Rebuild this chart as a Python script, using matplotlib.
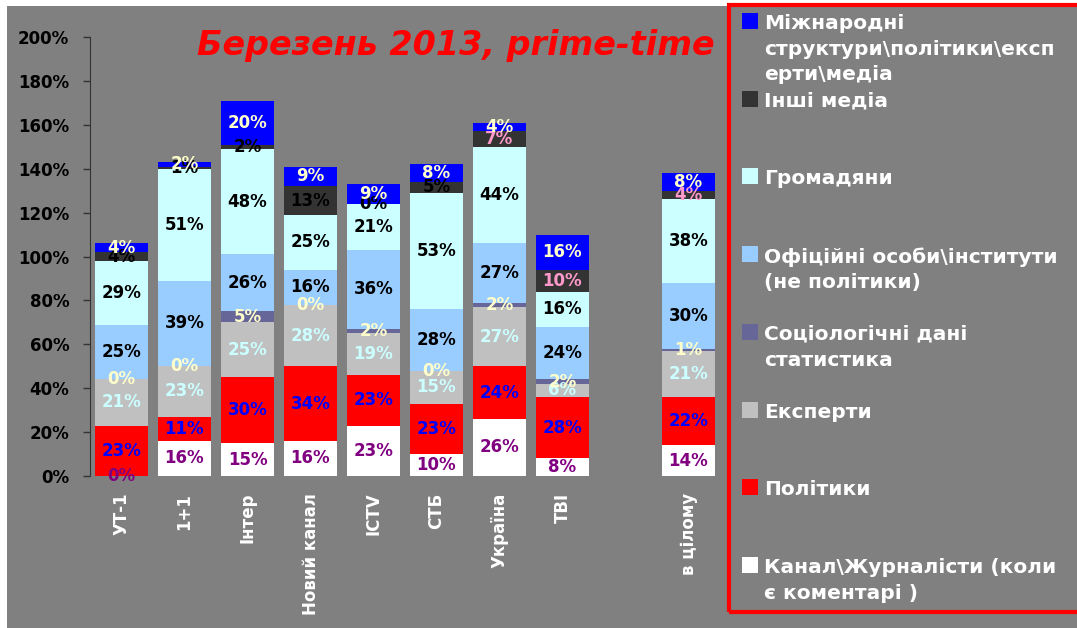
import matplotlib
matplotlib.use("Agg")
import matplotlib.pyplot as plt
from matplotlib.patches import Rectangle
import numpy as np

plt.rcParams['font.family'] = ['DejaVu Sans']

channels = ['УТ-1', '1+1', 'Інтер', 'Новий канал', 'ICTV', 'СТБ', 'Україна', 'ТВІ', 'в цілому']
# positions: 8 channels, one empty slot, then the total
positions = [0, 1, 2, 3, 4, 5, 6, 7, 9]

series_names = [
    'Канал\\Журналісти (коли\nє коментарі )',
    'Політики',
    'Експерти',
    'Соціологічні дані\nстатистика',
    'Офіційні особи\\інститути\n(не політики)',
    'Громадяни',
    'Інші медіа',
    'Міжнародні\nструктури\\політики\\експ\nерти\\медіа',
]
journalists = [0, 16, 15, 16, 23, 10, 26, 8, 14]
politicians = [23, 11, 30, 34, 23, 23, 24, 28, 22]
experts = [21, 23, 25, 28, 19, 15, 27, 6, 21]
sociology = [0, 0, 5, 0, 2, 0, 2, 2, 1]
officials = [25, 39, 26, 16, 36, 28, 27, 24, 30]
citizens = [29, 51, 48, 25, 21, 53, 44, 16, 38]
other_media = [4, 1, 2, 13, 0, 5, 7, 10, 4]
international = [4, 2, 20, 9, 9, 8, 4, 16, 8]
series = [journalists, politicians, experts, sociology, officials, citizens, other_media, international]

colors = ['#FFFFFF', '#FF0000', '#C0C0C0', '#666699', '#99CCFF', '#CCFFFF', '#333333', '#0000FF']
label_colors = ['#800080', '#0000FF', '#CCFFFF', '#FFFFCC', '#000000', '#000000', None, '#FFFFCC']
other_media_label_colors = ['#000000'] * 6 + ['#FF99CC'] * 3

fig = plt.figure(figsize=(10.77, 6.28), dpi=100)
fig.patch.set_facecolor('white')
fig.patches.append(Rectangle((7 / 1077, 0), 1, 1 - 6 / 628, transform=fig.transFigure,
                             facecolor='#808080', edgecolor='none', zorder=-10))

ax = fig.add_axes([90 / 1077, 152 / 628, 630 / 1077, 439 / 628])
ax.set_facecolor('#808080')

bottom = np.zeros(len(channels))
for i, vals in enumerate(series):
    vals = np.array(vals, dtype=float)
    ax.bar(positions, vals, width=0.84, bottom=bottom, color=colors[i], edgecolor='none')
    for j, v in enumerate(vals):
        c = label_colors[i] if label_colors[i] else other_media_label_colors[j]
        ax.text(positions[j], bottom[j] + v / 2, '%d%%' % v, ha='center', va='center',
                fontsize=12, fontweight='bold', color=c)
    bottom += vals

ax.set_xlim(-0.5, 9.5)
ax.set_ylim(0, 200)
ax.set_yticks(range(0, 201, 20))
ax.set_yticklabels(['%d%%' % t for t in range(0, 201, 20)], fontsize=12, fontweight='bold')
ax.set_xticks(positions)
ax.set_xticklabels(channels, rotation=90, fontsize=12, fontweight='bold', color='white')
ax.tick_params(axis='x', length=0, pad=12)
ax.tick_params(axis='y', length=5, width=1, color='#333333', pad=10)
for s in ['top', 'right', 'bottom']:
    ax.spines[s].set_visible(False)
ax.spines['left'].set_color('#333333')

fig.text(456 / 1077, 1 - 45 / 628, 'Березень 2013, prime-time', ha='center', va='center',
         fontsize=24, fontweight='bold', fontstyle='italic', color='red')

# legend box
fig.patches.append(Rectangle((729 / 1077, 1 - 612 / 628), 0.4, 607 / 628, transform=fig.transFigure,
                             facecolor='none', edgecolor='red', linewidth=3))
order = [7, 6, 5, 4, 3, 2, 1, 0]
for k, i in enumerate(order):
    top = 13 + k * 77.7
    fig.patches.append(Rectangle((742 / 1077, 1 - (top + 16) / 628), 16 / 1077, 16 / 628,
                                 transform=fig.transFigure, facecolor=colors[i], edgecolor='none'))
    fig.text(764 / 1077, 1 - (top + 1) / 628, series_names[i], ha='left', va='top',
             fontsize=14.5, fontweight='bold', color='white', linespacing=1.45)

fig.savefig('out.png', dpi=100, facecolor=fig.get_facecolor())
